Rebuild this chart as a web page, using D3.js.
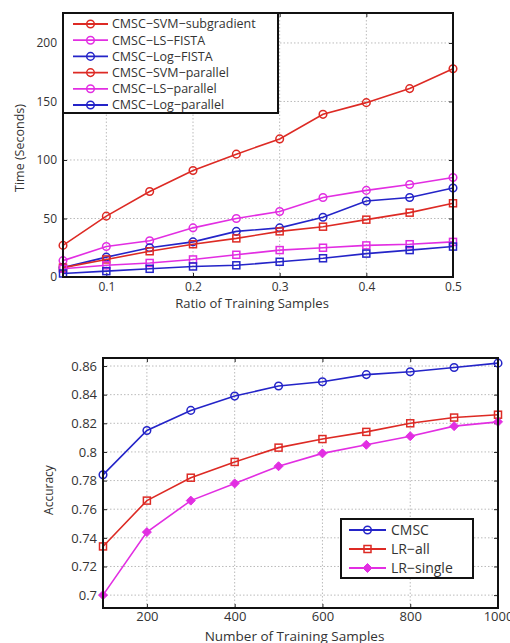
<!DOCTYPE html>
<html lang="en">
<head>
<meta charset="UTF-8">
<title>Time and accuracy</title>
<script src="https://cdn.jsdelivr.net/npm/d3@7"></script>
<style>
  body { margin: 0; background: #fff; }
  text { font-family: "Open Sans", sans-serif; fill: #333; }
</style>
</head>
<body>
<div id="root"></div>
<script>
// top chart: running time vs ratio of training samples
const ratios = [0.05, 0.1, 0.15, 0.2, 0.25, 0.3, 0.35, 0.4, 0.45, 0.5];
const svmSubgradient = [27, 52, 73, 91, 105, 118, 139, 149, 161, 178];
const lsFista = [14, 26, 31, 42, 50, 56, 68, 74, 79, 85];
const logFista = [8, 17, 25, 30, 39, 42, 51, 65, 68, 76];
const svmParallel = [8, 15, 22, 28, 33, 39, 43, 49, 55, 63];
const lsParallel = [7, 10, 12, 15, 19, 23, 25, 27, 28, 30];
const logParallel = [3, 5, 7, 9, 10, 13, 16, 20, 23, 26];
const timeTicks = [0, 50, 100, 150, 200];
const ratioTicks = [0.1, 0.2, 0.3, 0.4, 0.5];

// bottom chart: accuracy vs number of training samples
const samples = [100, 200, 300, 400, 500, 600, 700, 800, 900, 1000];
const cmsc = [0.784, 0.815, 0.829, 0.839, 0.846, 0.849, 0.854, 0.856, 0.859, 0.862];
const lrAll = [0.734, 0.766, 0.782, 0.793, 0.803, 0.809, 0.814, 0.820, 0.824, 0.826];
const lrSingle = [0.700, 0.744, 0.766, 0.778, 0.790, 0.799, 0.805, 0.811, 0.818, 0.821];
const accTicks = [0.7, 0.72, 0.74, 0.76, 0.78, 0.8, 0.82, 0.84, 0.86];
const sampleTicks = [200, 400, 600, 800, 1000];

const RED = '#dd2a24', MAG = '#e22ee2', BLUE = '#2424c8';

const svg = d3.select('#root').append('svg')
    .attr('width', 510).attr('height', 643);

function marker(g, shape, x, y, color) {
    if (shape === 'circle') {
        g.append('circle').attr('cx', x).attr('cy', y).attr('r', 3.8)
            .attr('fill', 'none').attr('stroke', color).attr('stroke-width', 1.5);
    } else if (shape === 'square') {
        g.append('rect').attr('x', x - 3.5).attr('y', y - 3.5)
            .attr('width', 7).attr('height', 7)
            .attr('fill', 'none').attr('stroke', color).attr('stroke-width', 1.5);
    } else {
        g.append('path').attr('d', `M${x},${y - 4.5}L${x + 4.5},${y}L${x},${y + 4.5}L${x - 4.5},${y}Z`)
            .attr('fill', color).attr('stroke', color).attr('stroke-width', 1);
    }
}

function drawPanel(cfg) {
    const g = svg.append('g');
    const x = d3.scaleLinear().domain(cfg.xDomain).range([cfg.left, cfg.right]);
    const y = d3.scaleLinear().domain(cfg.yDomain).range([cfg.bottom, cfg.top]);

    // dotted grid
    g.selectAll('.gx').data(cfg.xTicks).enter().append('line')
        .attr('x1', d => x(d)).attr('x2', d => x(d))
        .attr('y1', cfg.top).attr('y2', cfg.bottom)
        .attr('stroke', '#bbb').attr('stroke-dasharray', '1.5,2');
    g.selectAll('.gy').data(cfg.yTicks).enter().append('line')
        .attr('x1', cfg.left).attr('x2', cfg.right)
        .attr('y1', d => y(d)).attr('y2', d => y(d))
        .attr('stroke', '#bbb').attr('stroke-dasharray', '1.5,2');

    // axes (ticks inside, mirrored on top / right like a boxed plot)
    const xAxis = d3.axisBottom(x).tickValues(cfg.xTicks).tickSize(-4).tickPadding(cfg.xPad)
        .tickFormat(cfg.xFormat);
    const yAxis = d3.axisLeft(y).tickValues(cfg.yTicks).tickSize(-4).tickPadding(6)
        .tickFormat(cfg.yFormat);
    const ax = g.append('g').attr('transform', `translate(0,${cfg.bottom})`).call(xAxis);
    const ay = g.append('g').attr('transform', `translate(${cfg.left},0)`).call(yAxis);
    const axT = g.append('g').attr('transform', `translate(0,${cfg.top})`)
        .call(d3.axisTop(x).tickValues(cfg.xTicks).tickSize(-4).tickFormat(''));
    const ayR = g.append('g').attr('transform', `translate(${cfg.right},0)`)
        .call(d3.axisRight(y).tickValues(cfg.yTicks).tickSize(-4).tickFormat(''));
    [ax, ay, axT, ayR].forEach(a => {
        a.select('.domain').remove();
        a.selectAll('line').attr('stroke', '#222');
        a.selectAll('text').style('font-size', cfg.tickFont + 'px')
            .style('font-family', '"Open Sans", sans-serif').attr('fill', '#444');
    });

    // series
    cfg.series.forEach(s => {
        const line = d3.line().x((d, i) => x(cfg.xValues[i])).y(d => y(d));
        g.append('path').datum(s.values).attr('d', line)
            .attr('fill', 'none').attr('stroke', s.color).attr('stroke-width', 1.6);
        s.values.forEach((v, i) => marker(g, s.shape, x(cfg.xValues[i]), y(v), s.color));
    });

    // frame
    g.append('rect').attr('x', cfg.left).attr('y', cfg.top)
        .attr('width', cfg.right - cfg.left).attr('height', cfg.bottom - cfg.top)
        .attr('fill', 'none').attr('stroke', '#111').attr('stroke-width', 2);

    // labels
    g.append('text').attr('x', (cfg.left + cfg.right) / 2 + cfg.xLabelDx).attr('y', cfg.xLabelY)
        .attr('text-anchor', 'middle').style('font-size', cfg.labelFont + 'px').text(cfg.xLabel);
    g.append('text')
        .attr('transform', `translate(${cfg.yLabelX},${(cfg.top + cfg.bottom) / 2 + cfg.yLabelDy}) rotate(-90)`)
        .attr('text-anchor', 'middle').style('font-size', cfg.yLabelFont + 'px').text(cfg.yLabel);

    // legend
    const L = cfg.legend;
    const lg = g.append('g');
    lg.append('rect').attr('x', L.x).attr('y', L.y).attr('width', L.w).attr('height', L.h)
        .attr('fill', '#fff').attr('stroke', '#111').attr('stroke-width', 2);
    cfg.series.forEach((s, i) => {
        const yy = L.y + L.first + i * L.step;
        lg.append('line').attr('x1', L.x + L.lineX0).attr('x2', L.x + L.lineX1)
            .attr('y1', yy).attr('y2', yy).attr('stroke', s.color).attr('stroke-width', 1.8);
        marker(lg, s.legendShape || s.shape, L.x + (L.lineX0 + L.lineX1) / 2, yy, s.color);
        lg.append('text').attr('x', L.x + L.textX).attr('y', yy).attr('dy', '0.35em')
            .style('font-size', L.font + 'px').attr('fill', '#333').text(s.name);
    });
}

drawPanel({
    left: 63, right: 453, top: 13, bottom: 277,
    xDomain: [0.05, 0.5], yDomain: [0, 225.6],
    xTicks: ratioTicks, yTicks: timeTicks,
    xFormat: d3.format('.1f'), yFormat: d3.format('d'),
    xValues: ratios, xPad: 5,
    tickFont: 12, labelFont: 13, yLabelFont: 12.5,
    xLabel: 'Ratio of Training Samples', xLabelY: 308, xLabelDx: -6,
    yLabel: 'Time (Seconds)', yLabelX: 24, yLabelDy: 3,
    series: [
        { name: 'CMSC\u2212SVM\u2212subgradient', values: svmSubgradient, color: RED, shape: 'circle' },
        { name: 'CMSC\u2212LS\u2212FISTA', values: lsFista, color: MAG, shape: 'circle' },
        { name: 'CMSC\u2212Log\u2212FISTA', values: logFista, color: BLUE, shape: 'circle' },
        { name: 'CMSC\u2212SVM\u2212parallel', values: svmParallel, color: RED, shape: 'square', legendShape: 'circle' },
        { name: 'CMSC\u2212LS\u2212parallel', values: lsParallel, color: MAG, shape: 'square', legendShape: 'circle' },
        { name: 'CMSC\u2212Log\u2212parallel', values: logParallel, color: BLUE, shape: 'square', legendShape: 'circle' }
    ],
    legend: { x: 63, y: 13, w: 215, h: 100, first: 11, step: 16.2, lineX0: 10, lineX1: 45, textX: 49, font: 12.5 }
});

drawPanel({
    left: 103, right: 498, top: 358, bottom: 608,
    xDomain: [100, 1000], yDomain: [0.691, 0.8656],
    xTicks: sampleTicks, yTicks: accTicks,
    xFormat: d3.format('d'), yFormat: d => String(+d.toFixed(2)),
    xValues: samples, xPad: 4,
    tickFont: 13, labelFont: 13.5, yLabelFont: 12,
    xLabel: 'Number of Training Samples', xLabelY: 641, xLabelDx: -6,
    yLabel: 'Accuracy', yLabelX: 53, yLabelDy: 7,
    series: [
        { name: 'CMSC', values: cmsc, color: BLUE, shape: 'circle' },
        { name: 'LR\u2212all', values: lrAll, color: RED, shape: 'square' },
        { name: 'LR\u2212single', values: lrSingle, color: MAG, shape: 'diamond' }
    ],
    legend: { x: 341, y: 519, w: 132, h: 59, first: 11, step: 19, lineX0: 8, lineX1: 45, textX: 50, font: 14 }
});
</script>
</body>
</html>
